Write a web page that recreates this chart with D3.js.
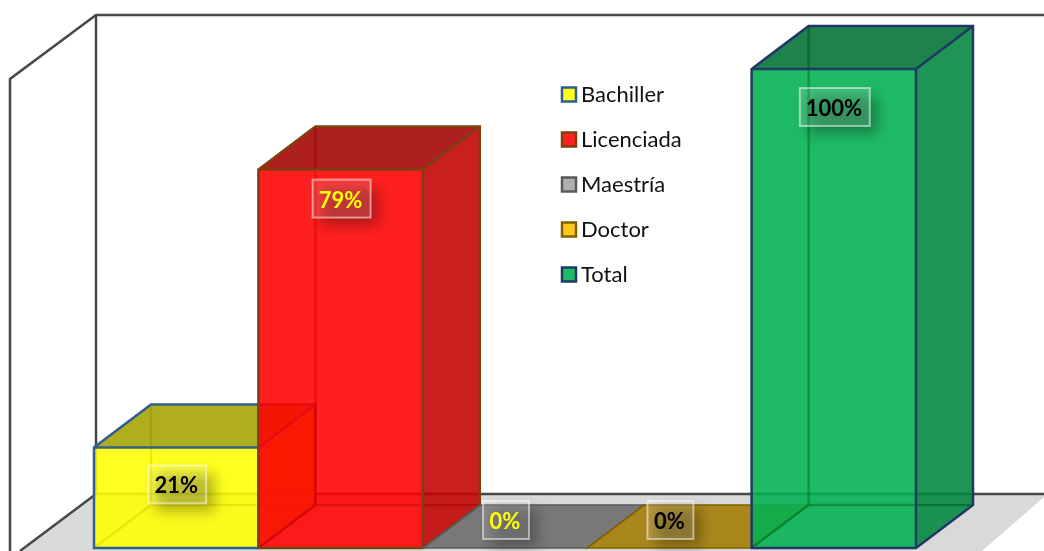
<!DOCTYPE html>
<html lang="es">
<head>
  <meta charset="UTF-8">
  <title>Grado académico</title>
  <style>
      html, body { margin: 0; padding: 0; background: #fff; overflow: hidden; }
      svg { display: block; }
      text { font-family: Lato, "Open Sans", sans-serif; }
  </style>
</head>
<body>
<div id="chart"></div>
<script src="https://d3js.org/d3.v7.min.js"></script>
<script>
  const categories = ["Bachiller", "Licenciada", "Maestría", "Doctor", "Total"];
  const values = [21, 79, 0, 0, 100];
  const labels = ["21%", "79%", "0%", "0%", "100%"];

  const fills = ["#ffff00", "#ff0000", "#a5a5a5", "#ffc000", "#00b050"];
  const edges = ["#2f5f8f", "#7f3f0f", "#595959", "#7f6000", "#1f3864"];
  const labelColors = ["#000", "#ffff00", "#ffff00", "#000", "#000"];
  // vertical distance from the top of the bar to the centre of its label
  const labelOffsets = [37, 29, -28, -28, 38];

  const width = 1044, height = 551;
  const depthX = 57, depthY = 43;

  const svg = d3.select("#chart").append("svg")
    .attr("width", width)
    .attr("height", height);

  const defs = svg.append("defs");
  defs.append("filter").attr("id", "blur")
    .attr("x", "-50%").attr("y", "-50%").attr("width", "200%").attr("height", "200%")
    .append("feGaussianBlur").attr("stdDeviation", 7);

  const x = d3.scaleBand().domain(categories).range([94, 916]);
  const y = d3.scaleLinear().domain([0, 100]).range([548, 69]);

  const line = d3.line();
  const poly = pts => line(pts) + "Z";
  const shade = (c, k) => {
    const r = d3.rgb(c);
    return d3.rgb(r.r * k, r.g * k, r.b * k).formatHex();
  };

  // walls and floor
  svg.append("path")
    .attr("d", poly([[96, 494], [1044, 494], [1044, 497], [982, 551], [20, 551]]))
    .attr("fill", "#dad9da");

  const wall = svg.append("g")
    .attr("fill", "none")
    .attr("stroke", "#484848")
    .attr("stroke-width", 2.5);
  wall.append("path").attr("d", line([[10, 551], [10, 79], [96, 15], [1044, 15]]));
  wall.append("path").attr("d", line([[96, 15], [96, 494], [1044, 494]]));
  wall.append("path").attr("d", line([[96, 494], [20, 551]]));

  // bars, left to right so each one tints what is behind it
  categories.forEach((c, i) => {
    const x0 = x(c), x1 = x0 + x.bandwidth();
    const yb = y(0), yt = y(values[i]);
    const g = svg.append("g");

    g.append("path")
      .attr("d", poly([[x0, yt], [x0 + depthX, yt - depthY], [x1 + depthX, yt - depthY], [x1, yt]]))
      .attr("fill", shade(fills[i], 0.64))
      .attr("fill-opacity", 0.88);

    if (values[i] > 0) {
      g.append("path")
        .attr("d", poly([[x1, yb], [x1 + depthX, yb - depthY], [x1 + depthX, yt - depthY], [x1, yt]]))
        .attr("fill", shade(fills[i], 0.76))
        .attr("fill-opacity", 0.88);

      g.append("rect")
        .attr("x", x0).attr("y", yt)
        .attr("width", x1 - x0).attr("height", yb - yt)
        .attr("fill", fills[i])
        .attr("fill-opacity", 0.88);

      // hidden edges seen through the glass, always darker than the face under them
      g.append("path")
        .attr("d", line([[x0, yb], [x0 + depthX, yb - depthY], [x1 + depthX, yb - depthY]]) +
          line([[x0 + depthX, yb - depthY], [x0 + depthX, yt - depthY]]))
        .attr("fill", "none")
        .attr("stroke", shade(d3.interpolateRgb(fills[i], "#fff")(0.4), 0.9))
        .attr("stroke-opacity", 0.8)
        .attr("stroke-width", 2.5)
        .style("mix-blend-mode", "multiply");

      g.append("path")
        .attr("d", poly([[x0, yb], [x0, yt], [x0 + depthX, yt - depthY], [x1 + depthX, yt - depthY],
          [x1 + depthX, yb - depthY], [x1, yb]]) +
          line([[x0, yt], [x1, yt], [x1 + depthX, yt - depthY]]) +
          line([[x1, yt], [x1, yb]]))
        .attr("fill", "none")
        .attr("stroke", edges[i])
        .attr("stroke-width", 2.5);
    } else {
      g.append("path")
        .attr("d", poly([[x0, yt], [x0 + depthX, yt - depthY], [x1 + depthX, yt - depthY], [x1, yt]]))
        .attr("fill", "none")
        .attr("stroke", edges[i])
        .attr("stroke-width", 1.5);
    }
  });

  // data labels
  const boxHeight = 38;
  const labelGroup = svg.append("g");
  labels.forEach((t, i) => {
    const cx = x(categories[i]) + x.bandwidth() / 2 + 1;
    const cy = y(values[i]) + labelOffsets[i];
    const boxWidth = t.length * 12 + 22;
    const g = labelGroup.append("g").attr("transform", `translate(${cx},${cy})`);
    g.append("rect")
      .attr("x", -boxWidth / 2 + 8).attr("y", -boxHeight / 2 + 8)
      .attr("width", boxWidth).attr("height", boxHeight)
      .attr("fill", "#000").attr("fill-opacity", 0.3)
      .attr("filter", "url(#blur)");
    g.append("rect")
      .attr("x", -boxWidth / 2).attr("y", -boxHeight / 2)
      .attr("width", boxWidth).attr("height", boxHeight)
      .attr("fill", "#fff").attr("fill-opacity", 0.14)
      .attr("stroke", "#fff").attr("stroke-opacity", 0.5)
      .attr("stroke-width", 2);
    g.append("text")
      .attr("text-anchor", "middle")
      .attr("x", -1)
      .attr("y", 9)
      .attr("font-size", 22)
      .attr("font-weight", 700)
      .attr("fill", labelColors[i])
      .text(t);
  });

  // legend
  const legendY = d3.scalePoint().domain(categories).range([94.5, 274.5]);
  const legend = svg.append("g").selectAll("g")
    .data(categories)
    .enter().append("g")
    .attr("transform", d => `translate(562,${legendY(d)})`);
  legend.append("rect")
    .attr("y", -7).attr("width", 14).attr("height", 14)
    .attr("fill", (d, i) => fills[i])
    .attr("fill-opacity", 0.88)
    .attr("stroke", (d, i) => edges[i])
    .attr("stroke-width", 2.5);
  legend.append("text")
    .attr("x", 19).attr("y", 7)
    .attr("font-size", 22)
    .attr("fill", "#111")
    .text(d => d);
</script>
</body>
</html>
